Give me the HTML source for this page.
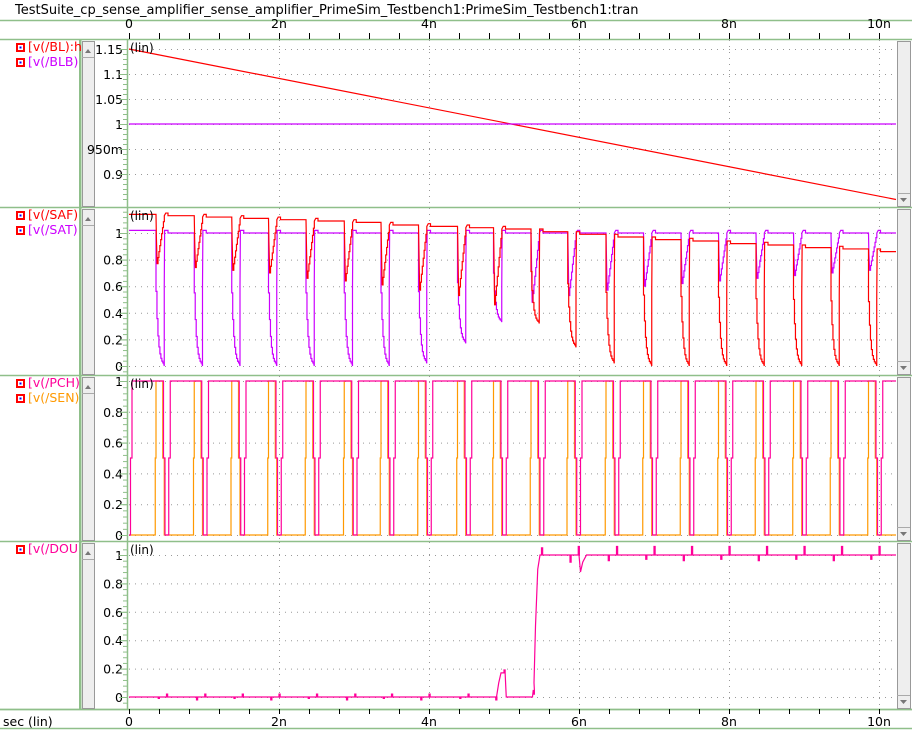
<!DOCTYPE html>
<html><head><meta charset="utf-8">
<style>
html,body{margin:0;padding:0;background:#fff;}
svg{display:block;font-family:"DejaVu Sans","Liberation Sans",sans-serif;}
</style></head>
<body>
<svg id="chart" width="912" height="730" viewBox="0 0 912 730" xmlns="http://www.w3.org/2000/svg">
<rect x="0" y="0" width="912" height="730" fill="#fff"/>
<text x="15" y="14" font-size="13" fill="#000">TestSuite_cp_sense_amplifier_sense_amplifier_PrimeSim_Testbench1:PrimeSim_Testbench1:tran</text>
<g id="frame"></g>
<g id="grid"></g>
<g id="traces"></g>
<g id="axes"></g>
</svg>
<script>
// ---- data ----
const xTickLabels = ["0","2n","4n","6n","8n","10n"];
const xTickValues = [0,2,4,6,8,10];
const blStart = 1.15, blEnd = 0.849;       // BL linear ramp values at t=0 and t=tEnd
const blbLevel = 1.0;
const dropTimes = [0.36,0.87,1.37,1.86,2.36,2.87,3.36,3.86,4.38,4.86,5.36,5.85,6.36,6.86,7.36,7.86,8.36,8.86,9.36,9.86];
const safMin  = [0.77,0.74,0.72,0.70,0.66,0.64,0.61,0.57,0.53,0.46,0.32,0.14,0.02,0,0,0,0,0,0,0];
const satMin  = [0,0,0,0,0,0,0,0.02,0.17,0.33,0.48,0.53,0.57,0.60,0.62,0.64,0.66,0.68,0.70,0.72];
const safHigh = [1.13,1.12,1.11,1.10,1.09,1.08,1.06,1.05,1.04,1.03,1.01,0.99,0.97,0.95,0.94,0.92,0.91,0.89,0.88,0.86];
const safInit = 1.14, satHigh = 1.0;
const doutTimes  = [0,4.9,4.93,4.96,5.0,5.03,5.38,5.40,5.42,5.45,5.48,6.0,6.02,6.05,6.1,10.24];
const doutValues = [0,0,0.1,0.17,0.17,0,0,0.1,0.5,0.9,1.0,1.0,0.88,0.95,1.0,1.0];
const doutSpikeUp = [0.02,0.02,0.02,0.02,0.02,0.02,0.02,0.02,0.02,0.02,0.05,0.06,0.06,0.06,0.06,0.06,0.06,0.06,0.06,0.06];
const doutSpikeDn = [0.01,0.02,0.01,0.02,0.01,0.02,0.01,0.02,0.01,0.02,0.03,0.05,0.04,0.03,0.04,0.03,0.04,0.03,0.04,0.03];

// ---- geometry ----
const X0=129, PXNS=75, XR=896, TEND=(XR-X0)/PXNS;
const xs = t => X0 + t*PXNS;
const panels = [
 {top:40,bot:207,zero:124,scale:500,base:1,ticks:[0.9,0.95,1,1.05,1.1,1.15],labels:["0.9","950m","1","1.05","1.1","1.15"],minor:0.01,lo:0.85,hi:1.16,legend:[["[v(/BL):h","#ff0000"],["[v(/BLB)","#cc00ff"]]},
 {top:208,bot:375,zero:366,scale:133,base:0,ticks:[0,0.2,0.4,0.6,0.8,1],labels:["0","0.2","0.4","0.6","0.8","1"],minor:0.04,lo:-0.05,hi:1.18,legend:[["[v(/SAF)","#ff0000"],["[v(/SAT)","#cc00ff"]]},
 {top:376,bot:541,zero:535,scale:154,base:0,ticks:[0,0.2,0.4,0.6,0.8,1],labels:["0","0.2","0.4","0.6","0.8","1"],minor:0.04,lo:-0.03,hi:1.03,legend:[["[v(/PCH)","#ff0099"],["[v(/SEN)","#ff9900"]]},
 {top:542,bot:709,zero:697,scale:142,base:0,ticks:[0,0.2,0.4,0.6,0.8,1],labels:["0","0.2","0.4","0.6","0.8","1"],minor:0.04,lo:-0.07,hi:1.08,legend:[["[v(/DOU","#ff0099"]]}
];
const ys = (p,v) => p.zero - (v-p.base)*p.scale;
const NS="http://www.w3.org/2000/svg";
function mk(tag, attrs, parent){const e=document.createElementNS(NS,tag);for(const k in attrs)e.setAttribute(k,attrs[k]);parent.appendChild(e);return e;}
const frame=document.getElementById('frame'),grid=document.getElementById('grid'),traces=document.getElementById('traces'),axes=document.getElementById('axes');

// frame lines
const G="#8fbf8a";
[20,39,709,728].forEach(y=>{const l=mk('line',{x1:0,x2:912,y1:y+0.5,y2:y+0.5,stroke:G,'stroke-width':1.5},frame);

});
mk('rect',{x:79,y:40,width:2.5,height:669,fill:G},frame);
panels.forEach((p,i)=>{
  const sep=mk('line',{x1:0,x2:912,y1:p.bot+0.5,y2:p.bot+0.5,stroke:G,'stroke-width':1.5},frame);
  
  
  // scrollbars
  [[82,94],[897,910]].forEach(([a,b])=>{
    const sb=mk('rect',{x:a+0.5,y:p.top+1.5,width:b-a,height:p.bot-p.top-2,fill:'#eeeeee',stroke:'#999','stroke-width':1},frame);
    
    
  });
  mk('path',{d:`M${85},${p.top+13}L${91},${p.top+13}L${88},${p.top+9}Z`,fill:'#777'},frame);
  mk('path',{d:`M${900},${p.bot-9}L${907},${p.bot-9}L${903.5},${p.bot-5}Z`,fill:'#777'},frame);
  mk('line',{x1:82,x2:94,y1:p.top+17.5,y2:p.top+17.5,stroke:'#aaa'},frame);
  mk('line',{x1:897,x2:910,y1:p.bot-13.5,y2:p.bot-13.5,stroke:'#aaa'},frame);
  // y axis line
  mk('line',{x1:127.5,x2:127.5,y1:p.top,y2:p.bot,stroke:G,'stroke-width':1.5},frame);
  // legend
  p.legend.forEach(([txt,col],j)=>{
    const yy=p.top+11+j*15;
    const ic=mk('rect',{x:17,y:yy-7,width:7,height:7,fill:'#fff',stroke:'#ff0000','stroke-width':2},frame);
    
    
    mk('rect',{x:19.5,y:yy-4.5,width:2,height:2,fill:'#0000ff'},frame);
    const t=mk('text',{x:28,y:yy,'font-size':12.5,fill:col},frame);
    t.textContent=txt;
    
    
  });
  const lin=mk('text',{x:130,y:p.top+12,'font-size':12,fill:'#000'},axes);
  lin.textContent="(lin)";
  
  
  // y ticks
  p.ticks.forEach((v,j)=>{
    const y=ys(p,v);
    const gl=mk('line',{x1:129,x2:XR,y1:y+0.5,y2:y+0.5,stroke:'#999','stroke-dasharray':'1,5'},grid);
    
    
    const tl=mk('text',{x:123,y:y+5,'font-size':12.5,'text-anchor':'end',fill:'#000'},axes);
    tl.textContent=p.labels[j];
    
    
    mk('line',{x1:119,x2:127,y1:y+0.5,y2:y+0.5,stroke:G},axes);
  });
  for(let v=Math.ceil(p.lo/p.minor)*p.minor; v<=p.hi; v+=p.minor){
    const y=ys(p,v); if(y<p.top+2||y>p.bot-1)continue;
    mk('line',{x1:123,x2:127,y1:y+0.5,y2:y+0.5,stroke:G},axes);
  }
  // vertical grid
  xTickValues.forEach(t=>{ if(t===0)return;
    const gl=mk('line',{x1:xs(t)+0.5,x2:xs(t)+0.5,y1:p.top,y2:p.bot,stroke:'#999','stroke-dasharray':'1,5'},grid);
    
    
  });
});
// x axes top & bottom
[[39,28],[709,726]].forEach(([ay,ly],k)=>{
  for(let t=0;t<=TEND+0.001;t+=0.4){
    const x=xs(t)+0.5;
    if(k===0) mk('line',{x1:x,x2:x,y1:ay-6,y2:ay,stroke:'#000'},axes);
    else mk('line',{x1:x,x2:x,y1:ay,y2:ay+5,stroke:'#000'},axes);
  }
  xTickValues.forEach((t,j)=>{
    const tl=mk('text',{x:xs(t),y:ly,'font-size':12.5,'text-anchor':'middle',fill:'#000'},axes);
    tl.textContent=xTickLabels[j];
    
    
  });
});
const xt=mk('text',{x:3,y:726,'font-size':12.5,fill:'#000'},axes);
xt.textContent="sec (lin)";



function drawTrace(p,pts,col,name){
  const d=pts.map((q,i)=>(i?'L':'M')+xs(Math.min(q[0],TEND)).toFixed(2)+','+ys(p,q[1]).toFixed(2)).join('');
  const e=mk('path',{d:d,fill:'none',stroke:col,'stroke-width':1.2},traces);
  
  
}
// Panel 1
drawTrace(panels[0],[[0,blStart],[TEND,blEnd]],'#ff0000','trace-bl');
drawTrace(panels[0],[[0,blbLevel],[TEND,blbLevel]],'#cc00ff','trace-blb');

// Panel 2 : sense amp outputs
function saWave(mins,otherMins,highs,init){
  const pts=[[0,init]];
  let prev=init;
  dropTimes.forEach((td,k)=>{
    const m=mins[k], hi=highs[k], winner=m>otherMins[k];
    pts.push([td,prev]);
    if(winner){
      pts.push([td+0.005,prev*0.85],[td+0.015,m]);
      for(let i=1;i<=8;i++){const t=td+0.015+i*0.012;const v=m+(hi-m)*(i/8);pts.push([t,pts[pts.length-1][1]],[t,v]);}
      pts.push([td+0.13,hi+0.02],[td+0.16,hi+0.02],[td+0.16,hi]);
    }else{
      let v=m+(prev-m)*0.55; pts.push([td,v]);
      for(let i=1;i<=8;i++){const t=td+i*0.013;const nv=m+(prev-m)*0.55*Math.exp(-i/2.2);pts.push([t,v],[t,nv]);v=nv;}
      pts.push([td+0.11,m],[td+0.11,hi*0.6],[td+0.115,hi+0.02],[td+0.16,hi+0.02],[td+0.16,hi]);
    }
    prev=hi;
  });
  pts.push([TEND,prev]);
  return pts;
}
const satHighs=dropTimes.map(()=>satHigh);
drawTrace(panels[1],saWave(satMin,safMin,satHighs,1.02),'#cc00ff','trace-sat');
drawTrace(panels[1],saWave(safMin,satMin,safHigh,safInit),'#ff0000','trace-saf');

// Panel 3 : PCH & SEN
const sen=[[0,0]], pch=[[0,0],[0.02,0],[0.02,0.5],[0.04,0.5],[0.04,1]];
dropTimes.forEach(td=>{
  sen.push([td-0.01,0],[td-0.01,0.5],[td,0.5],[td,1],[td+0.09,1],[td+0.09,0.5],[td+0.11,0.5],[td+0.11,0]);
  pch.push([td+0.1,1],[td+0.1,0.5],[td+0.12,0.5],[td+0.12,0],[td+0.17,0],[td+0.17,0.5],[td+0.19,0.5],[td+0.19,1]);
});
sen.push([TEND,0]); pch.push([TEND,1]);
drawTrace(panels[2],sen,'#ff9900','trace-sen');
drawTrace(panels[2],pch,'#ff0099','trace-pch');

// Panel 4 : DOUT
function doutBase(t){for(let i=1;i<doutTimes.length;i++){if(t<=doutTimes[i])return doutValues[i-1]+(doutValues[i]-doutValues[i-1])*(t-doutTimes[i-1])/(doutTimes[i]-doutTimes[i-1]);}return doutValues[doutValues.length-1];}
const events=[];
doutTimes.forEach(t=>events.push({t:t,type:'b'}));
dropTimes.forEach((td,k)=>{events.push({t:td+0.03,type:'dn',k:k});events.push({t:td+0.14,type:'up',k:k});});
events.sort((a,b)=>a.t-b.t);
const dout=[];
events.forEach(e=>{
  const b=doutBase(e.t);
  if(e.type==='b'){dout.push([e.t,b]);}
  else if(e.type==='dn'){const a=doutSpikeDn[e.k];dout.push([e.t,b],[e.t,b-a],[e.t+0.015,b-a],[e.t+0.015,b]);}
  else {const a=doutSpikeUp[e.k];dout.push([e.t,b],[e.t,b+a],[e.t+0.015,b+a],[e.t+0.015,b]);}
});
drawTrace(panels[3],dout,'#ff0099','trace-dout');
</script>
</body></html>
